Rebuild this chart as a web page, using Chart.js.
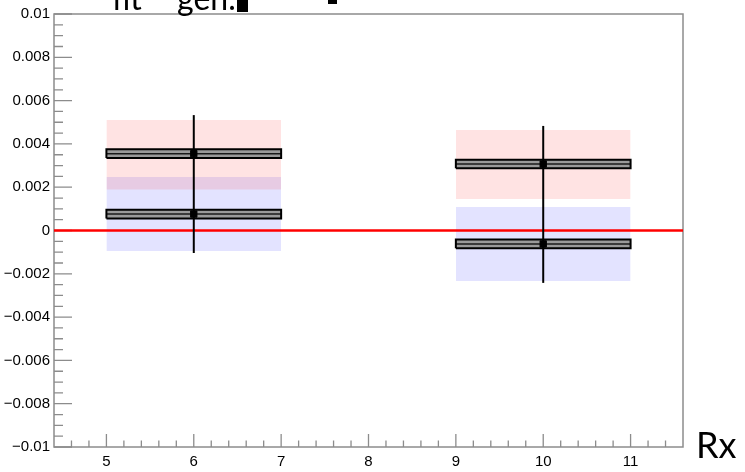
<!DOCTYPE html>
<html>
<head>
<meta charset="utf-8">
<script src="https://cdn.jsdelivr.net/npm/chart.js@4/dist/chart.umd.min.js"></script>
<style>
  html, body { margin: 0; padding: 0; background: #fff; }
  #wrap { width: 745px; height: 472px; }
</style>
</head>
<body>
<div id="wrap"><canvas id="c" width="745" height="472"></canvas></div>
<script>
// Bin centres and bin edges
const xCenters = [6, 10];
const xLow = [5, 9];
const xHigh = [7, 11];

// Upper measurement (red band)
const redValues = [0.00355, 0.00307];
const redBandLow = [0.00189, 0.00145];
const redBandHigh = [0.0051, 0.00464];

// Lower measurement (blue band)
const blueValues = [0.00076, -0.00062];
const blueBandLow = [-0.00095, -0.00233];
const blueBandHigh = [0.00247, 0.00109];

// Total error bar per bin
const errLow = [-0.00104, -0.00242];
const errHigh = [0.00533, 0.00483];

// Systematic half-height of the outlined boxes
const boxHalf = [0.0002, 0.0002];

// Axis ranges and ticks
const xRange = [4.4, 11.6];
const yRange = [-0.01, 0.01];
const xTicks = [5, 6, 7, 8, 9, 10, 11];
const yTicks = [-0.01, -0.008, -0.006, -0.004, -0.002, 0, 0.002, 0.004, 0.006, 0.008, 0.01];
const yTickLabels = ['\u22120.01', '\u22120.008', '\u22120.006', '\u22120.004', '\u22120.002', '0',
                     '0.002', '0.004', '0.006', '0.008', '0.01'];

const datasets = [];

function hline(x0, x1, y) { return [{x: x0, y: y}, {x: x1, y: y}]; }

// Filled band between two horizontal edges (top fills down to the next dataset)
function addBand(lo, hi, i, color, order) {
  datasets.push({ data: hline(xLow[i], xHigh[i], hi[i]), fill: '+1', backgroundColor: color,
                  borderColor: 'transparent', showLine: true, pointRadius: 0, order: order });
  datasets.push({ data: hline(xLow[i], xHigh[i], lo[i]), fill: false,
                  borderColor: 'transparent', showLine: true, pointRadius: 0, order: order });
}

for (let i = 0; i < xCenters.length; i++) {
  addBand(blueBandLow, blueBandHigh, i, 'rgba(0,0,255,0.11)', 9);
  addBand(redBandLow, redBandHigh, i, 'rgba(255,0,0,0.11)', 8);
}

// Zero reference line
datasets.push({ data: hline(xRange[0], xRange[1], 0), borderColor: '#ff0000', borderWidth: 2.5,
                showLine: true, pointRadius: 0, fill: false, order: 7 });

// Outlined boxes around each measurement
function addBox(values, i) {
  const v = values[i], h = boxHalf[i];
  datasets.push({ data: hline(xLow[i], xHigh[i], v + h), fill: '+1', backgroundColor: '#9a9a9a',
                  borderColor: 'transparent', showLine: true, pointRadius: 0, order: 6 });
  datasets.push({ data: hline(xLow[i], xHigh[i], v - h), fill: false,
                  borderColor: 'transparent', showLine: true, pointRadius: 0, order: 6 });
  datasets.push({ data: hline(xLow[i], xHigh[i], v), borderColor: '#1a1a1a', borderWidth: 1.5,
                  showLine: true, pointRadius: 0, fill: false, order: 5 });
  datasets.push({ data: [{x: xLow[i], y: v - h}, {x: xLow[i], y: v + h}, {x: xHigh[i], y: v + h},
                         {x: xHigh[i], y: v - h}, {x: xLow[i], y: v - h}],
                  borderColor: '#000', borderWidth: 2, showLine: true, pointRadius: 0, fill: false,
                  borderJoinStyle: 'miter', order: 4 });
}
for (let i = 0; i < xCenters.length; i++) {
  addBox(redValues, i);
  addBox(blueValues, i);
}

// Vertical error bars
for (let i = 0; i < xCenters.length; i++) {
  datasets.push({ data: [{x: xCenters[i], y: errLow[i]}, {x: xCenters[i], y: errHigh[i]}],
                  borderColor: '#000', borderWidth: 2, showLine: true, pointRadius: 0, fill: false, order: 2 });
}

// Square markers at both measurements
datasets.push({
  data: xCenters.map((x, i) => ({x: x, y: redValues[i]})).concat(xCenters.map((x, i) => ({x: x, y: blueValues[i]}))),
  showLine: false, pointStyle: 'rect', pointRadius: 4.5, pointBackgroundColor: '#000',
  pointBorderColor: '#000', pointBorderWidth: 1, order: 1
});

// Frame and inward tick marks (under the data), overlay text on top
const framePlugin = {
  id: 'frame',
  beforeDatasetsDraw(chart) {
    const ctx = chart.ctx, a = chart.chartArea;
    const xs = chart.scales.x, ys = chart.scales.y;
    ctx.save();
    ctx.strokeStyle = '#8c8c8c';
    ctx.lineWidth = 1.5;
    ctx.strokeRect(a.left, a.top, a.right - a.left, a.bottom - a.top);

    ctx.lineWidth = 1.3;
    ctx.beginPath();
    // y ticks: majors plus three minors per interval
    for (let k = 0; k < yTicks.length; k++) {
      const p = ys.getPixelForValue(yTicks[k]);
      ctx.moveTo(a.left, p); ctx.lineTo(a.left + 18, p);
      if (k < yTicks.length - 1) {
        const step = (yTicks[k + 1] - yTicks[k]) / 4;
        for (let m = 1; m < 4; m++) {
          const q = ys.getPixelForValue(yTicks[k] + m * step);
          ctx.moveTo(a.left, q); ctx.lineTo(a.left + 9, q);
        }
      }
    }
    // x ticks: majors plus minors every fifth of a unit
    for (let k = 0; k < xTicks.length; k++) {
      const p = xs.getPixelForValue(xTicks[k]);
      ctx.moveTo(p, a.bottom); ctx.lineTo(p, a.bottom - 13);
    }
    for (let k = 1; k * 0.2 + xRange[0] < xRange[1] - 1e-6; k++) {
      const v = xRange[0] + k * 0.2;
      if (Math.abs(v - Math.round(v)) < 1e-6) continue;
      const p = xs.getPixelForValue(v);
      ctx.moveTo(p, a.bottom); ctx.lineTo(p, a.bottom - 6.5);
    }
    ctx.stroke();
    ctx.restore();
  },
  afterDraw(chart) {
    const ctx = chart.ctx;
    ctx.save();
    // Axis name and heading
    ctx.fillStyle = '#000';
    ctx.textBaseline = 'alphabetic';
    ctx.font = '36px Lato';
    ctx.fillText('Rx', 696, 458);
    ctx.font = '32px Lato';
    ctx.fillText('fit', 112, 10);
    ctx.fillText('gen.', 177, 10);
    ctx.fillRect(237, 0, 11, 12);
    ctx.fillRect(328, 0, 9, 4);
    ctx.restore();
  }
};

new Chart(document.getElementById('c'), {
  type: 'scatter',
  data: { datasets: datasets },
  options: {
    responsive: false,
    animation: false,
    events: [],
    layout: { padding: { left: 0, top: 14, right: 62, bottom: 0 } },
    elements: { point: { radius: 0, hoverRadius: 0 }, line: { tension: 0 } },
    plugins: { legend: { display: false }, tooltip: { enabled: false } },
    scales: {
      x: {
        type: 'linear', min: xRange[0], max: xRange[1],
        grid: { display: false, drawTicks: false }, border: { display: false },
        afterBuildTicks: s => { s.ticks = xTicks.map(v => ({ value: v })); },
        afterFit: s => { s.height = 25; },
        ticks: { padding: 6, color: '#000', maxRotation: 0, autoSkip: false,
                 font: { family: "'Liberation Sans', Arial, sans-serif", size: 15 },
                 callback: v => String(v) }
      },
      y: {
        type: 'linear', min: yRange[0], max: yRange[1],
        grid: { display: false, drawTicks: false }, border: { display: false },
        afterBuildTicks: s => { s.ticks = yTicks.map(v => ({ value: v })); },
        afterFit: s => { s.width = 54; },
        ticks: { padding: 4, color: '#000', autoSkip: false,
                 font: { family: "'Liberation Sans', Arial, sans-serif", size: 15 },
                 callback: (v, i) => yTickLabels[i] }
      }
    }
  },
  plugins: [framePlugin]
});
</script>
</body>
</html>
